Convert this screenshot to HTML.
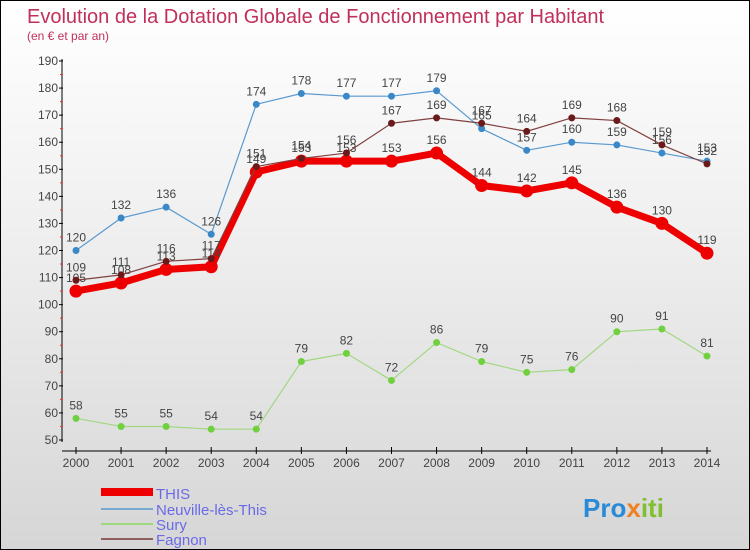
<!DOCTYPE html>
<html><head><meta charset="utf-8"><style>
body{margin:0}
#c{width:750px;height:550px;position:relative;box-sizing:border-box;border:1px solid #000;background:linear-gradient(#ffffff,#f0f0f0 40%,#d6d6d6);font-family:"Liberation Sans",sans-serif;overflow:hidden}
</style></head><body>
<div id="c">
<svg id="s" width="750" height="550" style="position:absolute;left:0;top:0">
<text x="26" y="22" font-size="20" fill="#c0305a">Evolution de la Dotation Globale de Fonctionnement par Habitant</text>
<text x="26" y="39" font-size="12" fill="#c0305a">(en € et par an)</text>
<g id="axes"></g><g id="series"></g>
<g>
<rect x="100" y="487" width="52" height="8" fill="#e00"/>
<text x="155" y="498" font-size="15" fill="#6a6ae8">THIS</text>
<line x1="100" y1="508" x2="152" y2="508" stroke="#7aaad0" stroke-width="2"/>
<text x="155" y="514" font-size="15" fill="#6a6ae8">Neuville-lès-This</text>
<line x1="100" y1="523" x2="152" y2="523" stroke="#a0d880" stroke-width="2"/>
<text x="155" y="529" font-size="15" fill="#6a6ae8">Sury</text>
<line x1="100" y1="538" x2="152" y2="538" stroke="#906060" stroke-width="2"/>
<text x="155" y="544" font-size="15" fill="#6a6ae8">Fagnon</text>
</g>
<text x="582" y="516" font-size="26" font-weight="bold" fill="#2a8ad8">Pro<tspan fill="#f08020">x</tspan><tspan fill="#80c030">iti</tspan></text>
</svg>
</div>
<script>
const years=[2000,2001,2002,2003,2004,2005,2006,2007,2008,2009,2010,2011,2012,2013,2014];
const yTicks=[50,60,70,80,90,100,110,120,130,140,150,160,170,180,190];
const thisVals=[105,108,113,114,149,153,153,153,156,144,142,145,136,130,119];
const neuvilleVals=[120,132,136,126,174,178,177,177,179,165,157,160,159,156,153];
const suryVals=[58,55,55,54,54,79,82,72,86,79,75,76,90,91,81];
const fagnonVals=[109,111,116,117,151,154,156,167,169,167,164,169,168,159,152];
const NS="http://www.w3.org/2000/svg";
const x=i=>75+i*(706-75)/(years.length-1);
const y=v=>439-(v-50)*(379/140);
function mk(t,a,p){const e=document.createElementNS(NS,t);for(const k in a)e.setAttribute(k,a[k]);p.appendChild(e);return e;}
const ax=document.getElementById('axes');
let e=mk('line',{x1:61,y1:58,x2:61,y2:441,stroke:'#000'},ax);


e=mk('line',{x1:61,y1:450,x2:710,y2:450,stroke:'#000'},ax);


yTicks.forEach(v=>{mk('line',{x1:58,y1:y(v),x2:62,y2:y(v),stroke:'#000'},ax);
 if(v<190)mk('line',{x1:59,y1:y(v+5),x2:62,y2:y(v+5),stroke:'#e33'},ax);
 const t=mk('text',{x:57,y:y(v)+4,'font-size':12,fill:'#444','text-anchor':'end'},ax);t.textContent=v;
 
 });
years.forEach((yr,i)=>{mk('line',{x1:x(i),y1:446,x2:x(i),y2:453,stroke:'#000'},ax);
 const t=mk('text',{x:x(i),y:466,'font-size':12,fill:'#444','text-anchor':'middle'},ax);t.textContent=yr;
 
 });
const sg=document.getElementById('series');
function draw(vals,name,color,w,r,dot){
 const g=mk('g',{},sg);
 
 
 mk('polyline',{points:vals.map((v,i)=>x(i)+','+y(v)).join(' '),fill:'none',stroke:color,'stroke-width':w,'stroke-linejoin':'round'},g);
 vals.forEach((v,i)=>{const c=mk('circle',{cx:x(i),cy:y(v),r:r,fill:dot},g);
  
  
  const t=mk('text',{x:x(i),y:y(v)-9,'font-size':12,fill:'#444','text-anchor':'middle'},g);t.textContent=v;
  
  });
}
draw(neuvilleVals,'neuville','#5a9ad0',1.2,3.5,'#3a88c8');
draw(suryVals,'sury','#a0d880',1.2,3.5,'#70d040');
draw(thisVals,'this','#ee0000',7,6.5,'#ee0000');
draw(fagnonVals,'fagnon','#804040',1.2,3.5,'#6a1a1a');
</script>
</body></html>
